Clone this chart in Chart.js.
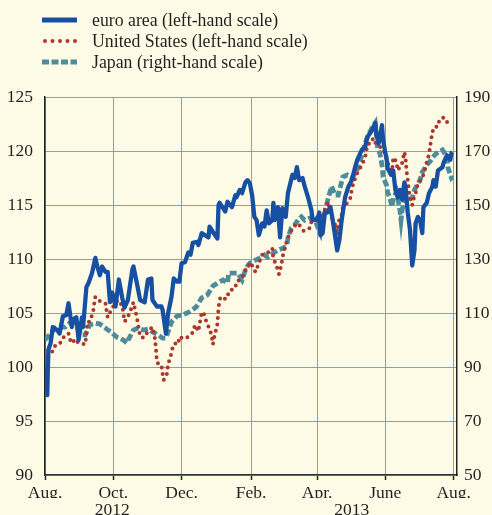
<!DOCTYPE html>
<html>
<head>
<meta charset="utf-8">
<script src="https://cdn.jsdelivr.net/npm/chart.js@4.4.1/dist/chart.umd.min.js"></script>
<style>
  body { margin: 0; background: #fdfbe6; }
  canvas { display: block; }
</style>
</head>
<body>
<canvas id="mycanvas" width="492" height="515"></canvas>
<script>
// days counted from 1 Aug 2012
var monthDays = [0, 61, 122, 184, 243, 304, 365];
var monthLabels = ['Aug.', 'Oct.', 'Dec.', 'Feb.', 'Apr.', 'June', 'Aug.'];
var yearDays = [60, 274];
var yearLabels = ['2012', '2013'];

// [day, index] euro area, left-hand scale
var euroSeries = [
  [0,99.8],[2,97.4],[3,101.6],[5,102.2],[7,103.7],[11,103.4],[13,103.1],[16,104.7],[19,104.8],[21,105.9],
  [24,103.7],[25,104.4],[28,104.6],[30,102.5],[33,104.6],[34,103.7],[37,107.4],[39,107.8],[42,108.7],[45,110.1],
  [46,109.6],[49,108.5],[51,109.3],[54,108.8],[56,108.8],[58,106.0],[60,106.9],[63,105.6],[66,108.1],[69,106.4],
  [71,105.5],[74,106.2],[78,109.0],[79,109.3],[82,107.8],[85,106.2],[89,106.0],[92,108.1],[95,108.2],[96,106.2],
  [100,105.6],[104,105.6],[105,105.3],[108,103.1],[110,105.0],[113,106.5],[115,108.2],[118,107.9],[120,107.9],[122,109.6],
  [125,109.7],[128,110.6],[130,110.4],[132,111.5],[136,111.6],[137,111.3],[140,112.4],[143,112.2],[146,112.0],[147,113.0],
  [150,112.5],[154,111.9],[155,115.0],[156,115.2],[161,114.4],[163,115.3],[167,114.8],[170,115.9],[171,115.7],[174,116.4],
  [176,116.1],[179,117.1],[181,117.3],[183,117.0],[185,115.9],[187,113.9],[189,113.6],[191,112.2],[194,113.3],[196,113.0],
  [198,114.5],[200,113.3],[203,113.6],[204,115.2],[205,113.6],[208,114.8],[210,112.0],[212,114.7],[213,114.3],[215,113.9],
  [217,116.1],[221,117.8],[223,117.5],[225,118.5],[227,117.3],[230,117.5],[232,116.7],[235,115.7],[238,114.5],[239,113.6],
  [243,113.6],[245,114.3],[246,112.2],[248,112.4],[250,114.3],[252,114.3],[255,114.8],[257,113.6],[261,110.8],[263,111.8],
  [265,113.6],[268,115.7],[271,116.7],[274,117.3],[277,118.5],[279,119.2],[283,120.1],[286,120.4],[288,121.3],[292,121.9],
  [295,122.6],[296,121.5],[298,120.7],[301,122.4],[302,121.0],[304,119.8],[305,119.4],[306,118.4],[309,117.8],[311,118.2],
  [313,116.4],[315,115.7],[317,116.4],[319,115.5],[321,117.1],[322,116.7],[324,114.3],[326,112.7],[328,109.4],[330,110.8],
  [331,113.3],[333,113.9],[335,113.6],[337,112.4],[338,114.8],[341,115.2],[343,116.1],[346,116.7],[347,117.3],[349,116.7],
  [351,118.2],[355,118.5],[356,118.9],[359,119.6],[360,119.4],[362,119.2],[363,119.8],[364,119.9]
];

// United States, left-hand scale
var usSeries = [
  [0,100.0],[2,99.3],[3,101.0],[6,101.3],[8,101.9],[13,102.1],[16,102.7],[21,103.1],[22,102.6],[24,102.2],
  [27,102.6],[30,102.2],[36,102.1],[38,104.2],[40,104.2],[43,105.1],[44,105.9],[45,106.5],[49,106.1],[54,105.9],
  [55,105.2],[56,104.6],[60,105.5],[62,105.7],[65,106.2],[69,105.7],[71,104.2],[73,104.4],[76,105.1],[79,106.0],
  [82,104.6],[85,102.8],[88,102.7],[92,103.3],[96,103.7],[98,102.8],[99,101.8],[100,100.4],[104,100.2],[105,99.4],
  [106,98.8],[109,99.4],[110,100.3],[112,100.9],[114,101.8],[116,102.2],[119,102.1],[120,102.8],[124,102.6],[128,102.8],
  [132,103.2],[134,103.9],[137,103.3],[138,103.9],[140,105.1],[142,104.9],[145,103.9],[147,103.6],[149,102.8],[150,102.1],
  [151,102.7],[154,104.0],[155,105.5],[156,106.2],[157,106.5],[161,106.3],[163,106.4],[164,107.0],[170,107.3],[171,107.9],
  [176,108.2],[180,109.2],[184,109.7],[185,109.4],[188,108.8],[194,110.4],[199,110.6],[203,111.0],[204,110.0],[206,109.6],
  [207,109.3],[209,108.6],[211,109.4],[213,110.6],[217,112.0],[222,113.0],[226,113.3],[231,112.6],[237,112.9],[239,114.1],
  [244,113.7],[247,113.4],[248,114.1],[253,115.3],[254,114.7],[256,113.9],[258,113.4],[260,113.0],[261,112.2],[262,113.4],
  [265,114.1],[266,114.8],[270,115.2],[273,115.7],[274,116.5],[278,117.8],[283,118.7],[286,119.4],[288,120.6],[292,120.8],
  [293,121.2],[296,120.6],[299,120.4],[302,120.2],[304,119.6],[305,119.2],[306,118.9],[310,118.1],[311,119.4],[314,119.0],
  [315,118.2],[317,118.5],[319,118.9],[321,119.9],[322,119.4],[323,118.1],[324,117.3],[325,116.4],[326,115.6],[328,115.0],
  [329,115.5],[332,116.4],[333,117.1],[336,117.3],[339,118.1],[341,119.0],[343,119.7],[344,120.4],[345,121.1],[346,121.8],
  [349,122.3],[350,122.2],[353,123.0],[357,123.1],[359,122.7],[362,122.6]
];

// Japan, right-hand scale
var japanSeries = [
  [0,100.0],[4,101.9],[9,104.4],[13,104.8],[18,104.8],[22,106.3],[25,105.6],[29,104.4],[33,101.9],[36,101.9],
  [40,105.6],[45,106.3],[49,105.9],[54,104.4],[60,102.6],[64,101.1],[70,100.0],[73,98.9],[79,103.7],[83,104.4],
  [88,103.7],[92,104.0],[96,103.0],[101,101.9],[105,100.7],[108,100.7],[113,106.7],[118,108.9],[123,109.3],[129,110.4],
  [135,112.2],[140,115.6],[145,116.7],[150,120.0],[154,121.1],[159,122.2],[163,121.1],[164,124.8],[170,124.8],[172,124.8],
  [176,122.2],[179,125.9],[181,127.4],[183,128.5],[188,129.6],[192,130.4],[196,131.5],[199,130.7],[204,132.2],[208,133.3],
  [213,134.1],[216,134.8],[217,137.8],[220,141.5],[223,142.6],[226,144.4],[229,145.6],[232,144.4],[237,145.2],[241,144.4],
  [246,139.6],[248,144.4],[250,147.4],[253,152.6],[256,157.0],[259,153.7],[262,153.7],[266,160.4],[270,161.1],[273,160.4],
  [274,160.0],[278,162.2],[281,165.6],[286,173.0],[288,175.2],[292,178.5],[295,180.4],[296,176.7],[297,171.5],[299,169.3],
  [301,164.8],[302,160.4],[305,157.4],[306,154.8],[308,152.6],[310,149.3],[311,152.6],[314,154.8],[317,148.1],[318,144.4],
  [319,148.1],[321,152.6],[324,151.9],[328,152.6],[330,155.6],[335,159.3],[337,162.2],[341,164.8],[345,166.7],[348,168.5],
  [351,169.6],[355,170.4],[359,167.8],[360,163.7],[363,160.0],[364,160.4]
];

var serif = "'Liberation Serif', 'Times New Roman', serif";
var textColor = '#231f20';
var gridColor = '#8796e8';

function toPoints(series) {
  return series.map(function(p) { return { x: p[0], y: p[1] }; });
}

var backgroundPlugin = {
  id: 'cream',
  beforeDraw: function(chart) {
    var ctx = chart.ctx;
    ctx.save();
    ctx.fillStyle = '#fdfbe6';
    ctx.fillRect(0, 0, chart.width, chart.height);
    ctx.restore();
  }
};

// legend stacked in a column at the top left
var legendPlugin = {
  id: 'stackLegend',
  afterDraw: function(chart) {
    var ctx = chart.ctx;
    chart.data.datasets.forEach(function(ds, i) {
      var y = 20 + i * 21;
      ctx.save();
      ctx.strokeStyle = ds.borderColor;
      ctx.lineWidth = ds.legendWidth;
      ctx.lineCap = ds.borderCapStyle;
      ctx.setLineDash(ds.legendDash);
      ctx.beginPath();
      ctx.moveTo(ds.legendStart, y);
      ctx.lineTo(77, y);
      ctx.stroke();
      ctx.restore();
      ctx.save();
      ctx.fillStyle = textColor;
      ctx.font = '17.8px ' + serif;
      ctx.textBaseline = 'middle';
      ctx.fillText(ds.label, 92, y + 1);
      ctx.restore();
    });
  }
};

var chartdata = {
  datasets: [
    {
      label: 'euro area (left-hand scale)',
      data: toPoints(euroSeries),
      yAxisID: 'y',
      borderColor: '#1750a2',
      borderWidth: 4.3,
      borderJoinStyle: 'round',
      borderCapStyle: 'butt',
      legendWidth: 5,
      legendDash: [],
      legendStart: 42,
      pointRadius: 0,
      tension: 0
    },
    {
      label: 'United States (left-hand scale)',
      data: toPoints(usSeries),
      yAxisID: 'y',
      borderColor: '#ad362d',
      borderWidth: 4,
      borderDash: [0, 6.5],
      borderCapStyle: 'round',
      legendWidth: 4,
      legendDash: [0, 7.5],
      legendStart: 45,
      pointRadius: 0,
      tension: 0
    },
    {
      label: 'Japan (right-hand scale)',
      data: toPoints(japanSeries),
      yAxisID: 'y2',
      borderColor: '#4e8c9b',
      borderWidth: 4.8,
      borderDash: [7, 3],
      borderCapStyle: 'butt',
      legendWidth: 4.8,
      legendDash: [7, 2.5],
      legendStart: 42,
      pointRadius: 0,
      tension: 0
    }
  ]
};

var ctx = document.getElementById('mycanvas');
var lineGraph = new Chart(ctx, {
  type: 'line',
  data: chartdata,
  plugins: [backgroundPlugin, legendPlugin],
  options: {
    responsive: false,
    animation: false,
    layout: { padding: { top: 97, left: 0, right: 0, bottom: 0 } },
    plugins: { legend: { display: false }, tooltip: { enabled: false } },
    scales: {
      x: {
        type: 'linear',
        position: 'bottom',
        min: 0,
        max: 368,
        afterBuildTicks: function(axis) {
          axis.ticks = monthDays.map(function(d) { return { value: d }; });
        },
        afterFit: function(axis) { axis.height = 23; },
        ticks: {
          autoSkip: false,
          maxRotation: 0,
          padding: 3,
          color: textColor,
          font: { family: serif, size: 17.5 },
          callback: function(value, index) { return monthLabels[index]; }
        },
        grid: { color: gridColor, lineWidth: 1, tickColor: '#222', tickLength: 5, tickWidth: 1.5 },
        border: { color: '#333', width: 1.5 }
      },
      x2: {
        type: 'linear',
        position: 'bottom',
        min: 0,
        max: 368,
        afterBuildTicks: function(axis) {
          axis.ticks = yearDays.map(function(d) { return { value: d }; });
        },
        afterFit: function(axis) { axis.height = 17; },
        ticks: {
          autoSkip: false,
          maxRotation: 0,
          padding: 2,
          color: textColor,
          font: { family: serif, size: 17.5 },
          callback: function(value, index) { return yearLabels[index]; }
        },
        grid: { display: false, drawTicks: false },
        border: { display: false }
      },
      y: {
        position: 'left',
        min: 90,
        max: 125,
        afterFit: function(axis) { axis.width = 45; },
        ticks: {
          stepSize: 5,
          padding: 12,
          color: textColor,
          font: { family: serif, size: 17.5 }
        },
        grid: { color: gridColor, lineWidth: 1, drawTicks: false },
        border: { color: '#222', width: 1.5 }
      },
      y2: {
        position: 'right',
        min: 50,
        max: 190,
        afterFit: function(axis) { axis.width = 35; },
        ticks: {
          stepSize: 20,
          padding: 7,
          color: textColor,
          font: { family: serif, size: 17.5 }
        },
        grid: { display: false, drawTicks: false },
        border: { color: '#222', width: 1.5 }
      }
    }
  }
});
</script>
</body>
</html>
